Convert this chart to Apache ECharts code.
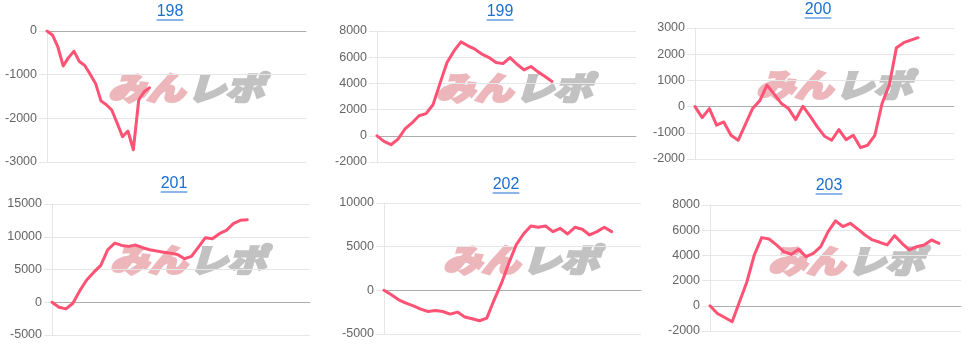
<!DOCTYPE html>
<html><head><meta charset="utf-8">
<script src="https://cdn.jsdelivr.net/npm/echarts@6/dist/echarts.min.js"></script>
<style>html,body{margin:0;padding:0;background:#fff;}#c{width:970px;height:345px;}</style>
</head><body><div id="c"></div>
<script>
// ---- data ----
const titles = ['198', '199', '200', '201', '202', '203'];
const slotCounts = [49, 38, 37, 38, 36, 35];
const d198 = [0,-90,-360,-800,-610,-460,-700,-790,-990,-1200,-1600,-1690,-1810,-2110,-2420,-2290,-2720,-1580,-1390,-1300];
const d199 = [0,-430,-680,-250,520,980,1530,1690,2370,4000,5590,6480,7170,6870,6610,6230,5970,5590,5510,5970,5460,5030,5290,4880,4530,4150];
const d200 = [0,-420,-75,-710,-585,-1095,-1285,-675,-75,220,820,475,120,-75,-495,15,-365,-775,-1130,-1285,-875,-1260,-1095,-1565,-1475,-1095,120,820,2250,2440,2540,2630];
const d201 = [0,-765,-1010,-150,1790,3430,4590,5620,8020,9030,8680,8530,8730,8330,8020,7810,7650,7500,7300,6640,7000,8420,9860,9700,10470,10980,12000,12510,12610];
const d202 = [0,-510,-1085,-1460,-1770,-2150,-2420,-2310,-2420,-2720,-2490,-3060,-3250,-3480,-3180,-1085,820,3110,5200,6450,7370,7220,7370,6720,7100,6450,7220,6990,6340,6720,7220,6720];
const d203 = [0,-610,-930,-1270,320,1910,4030,5410,5300,4830,4300,4080,4480,3900,4160,4690,5890,6740,6290,6550,6100,5620,5230,5040,4830,5570,4960,4430,4690,4830,5230,4960];
const seriesData = [d198, d199, d200, d201, d202, d203];
const yMin = [-3000, -2000, -2000, -5000, -5000, -2000];
const yMax = [0, 8000, 3000, 15000, 10000, 8000];
const yInterval = [1000, 2000, 1000, 5000, 5000, 2000];

// ---- layout ----
const grids = [
  {left: 47, top: 31, width: 259, height: 131},
  {left: 377, top: 31, width: 259, height: 131},
  {left: 695, top: 28, width: 259, height: 131},
  {left: 52, top: 204, width: 258, height: 131},
  {left: 384, top: 203, width: 257, height: 131},
  {left: 710, top: 205, width: 251, height: 126}
];
const titlePos = [[170, 12], [500, 12], [818, 10], [174, 184], [506, 185], [829, 186]];
const logoPos = [[108, 88], [436, 88], [756, 85], [110, 260], [443, 260], [768, 261]];

const titleFont = '16px "Liberation Sans", Arial, sans-serif';
const titleColor = '#1a6fd0';
const cv = document.createElement('canvas').getContext('2d');
cv.font = titleFont;

const logoFont = 'italic 900 32px "Noto Sans CJK JP"';
const graphics = [];
titles.forEach((t, i) => {
  const [cx, cy] = titlePos[i];
  const w = cv.measureText(t).width;
  graphics.push({type: 'text', x: cx, y: cy, z: 10,
    style: {text: t, font: titleFont, fill: titleColor, textAlign: 'center', textVerticalAlign: 'middle'}});
  graphics.push({type: 'line', z: 10, shape: {x1: cx - w / 2, y1: cy + 8, x2: cx + w / 2, y2: cy + 8},
    style: {stroke: titleColor, lineWidth: 1}});
  const [lx, ly] = logoPos[i];
  graphics.push({type: 'group', x: lx, y: ly, scaleX: 1.2, z: 0, children: [
    {type: 'text', x: 0, y: 0, style: {text: 'みん', font: logoFont, fill: '#ecb6bb', stroke: '#ecb6bb', lineWidth: 2.5, textAlign: 'left', textVerticalAlign: 'middle'}},
    {type: 'text', x: 66, y: 0, style: {text: 'レポ', font: logoFont, fill: '#c2c2c2', stroke: '#c2c2c2', lineWidth: 2.5, textAlign: 'left', textVerticalAlign: 'middle'}}
  ]});
});

const option = {
  animation: false,
  backgroundColor: '#fff',
  grid: grids.map(g => Object.assign({containLabel: false}, g)),
  xAxis: seriesData.map((d, i) => ({
    type: 'category', gridIndex: i, boundaryGap: false,
    data: Array.from({length: slotCounts[i]}, (_, k) => String(k + 1)),
    axisLabel: {show: false}, axisTick: {show: false},
    axisLine: {show: true, onZero: true, lineStyle: {color: 'rgba(0,0,0,0.25)', width: 1}},
    splitLine: {show: false}
  })),
  yAxis: seriesData.map((d, i) => ({
    type: 'value', gridIndex: i, min: yMin[i], max: yMax[i], interval: yInterval[i],
    axisLine: {show: true, lineStyle: {color: '#e6e6e6'}},
    axisTick: {show: true, length: 8, lineStyle: {color: '#e6e6e6'}},
    axisLabel: {color: '#666', fontSize: 12.5, fontFamily: '"Liberation Sans", Arial, sans-serif', margin: 10,
      formatter: v => String(v)},
    splitLine: {show: true, lineStyle: {color: '#e6e6e6', width: 1}}
  })),
  series: seriesData.map((d, i) => ({
    type: 'line', xAxisIndex: i, yAxisIndex: i, data: d, z: 5,
    showSymbol: false, smooth: false,
    lineStyle: {color: '#ff5274', width: 3, join: 'round', cap: 'round'}
  })),
  graphic: graphics
};
const chart = echarts.init(document.getElementById('c'), null, {renderer: 'canvas'});
chart.setOption(option);
</script></body></html>
